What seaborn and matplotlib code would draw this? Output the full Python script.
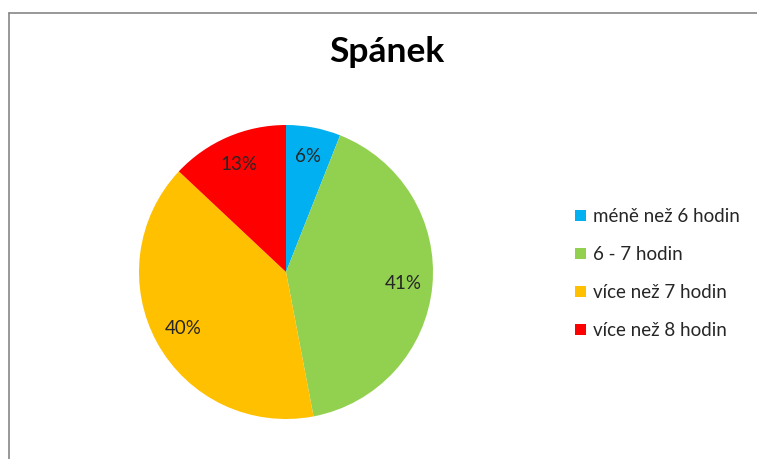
import matplotlib
matplotlib.use("Agg")
import matplotlib.pyplot as plt
from matplotlib.lines import Line2D
import seaborn as sns

# Sleep duration survey
categories = ["méně než 6 hodin", "6 - 7 hodin", "více než 7 hodin", "více než 8 hodin"]
shares = [6, 41, 40, 13]
colors = ["#00B0F0", "#92D050", "#FFC000", "#FF0000"]
title = "Spánek"

sns.set_theme(style="white")
plt.rcParams["font.family"] = ["Lato", "DejaVu Sans"]

W, H = 757, 459
fig = plt.figure(figsize=(W / 100, H / 100), dpi=100)
fig.patch.set_facecolor("white")

cx, cy, r = 286, 272, 147
ax = fig.add_axes([(cx - r) / W, (H - cy - r) / H, 2 * r / W, 2 * r / H])

wedges, texts, autotexts = ax.pie(
    shares,
    colors=colors,
    startangle=90,
    counterclock=False,
    autopct=lambda p: f"{p:.0f}%",
    pctdistance=0.8,
    wedgeprops=dict(linewidth=0),
    textprops=dict(fontsize=13.5, color="#262626"),
)
ax.set_xlim(-1, 1)
ax.set_ylim(-1, 1)
ax.set_aspect("equal")
ax.axis("off")

fig.text(387 / W, 1 - 52 / H, title, ha="center", va="center",
         fontsize=25.5, fontweight="bold", color="#000000")

leg = fig.legend(
    wedges, categories,
    loc="upper left",
    bbox_to_anchor=(566 / W, 1 - 199 / H),
    frameon=False,
    fontsize=13.5,
    handlelength=0.55,
    handleheight=0.55,
    handletextpad=0.4,
    labelspacing=1.12,
    borderpad=0,
)
for t in leg.get_texts():
    t.set_color("#262626")

# chart frame (top and left edges)
fig.add_artist(Line2D([8.5 / W, 1], [1 - 12.5 / H, 1 - 12.5 / H],
                      transform=fig.transFigure, color="#868686", lw=1.2))
fig.add_artist(Line2D([8.5 / W, 8.5 / W], [0, 1 - 12.5 / H],
                      transform=fig.transFigure, color="#868686", lw=1.2))

fig.savefig("out.png", dpi=100, facecolor="white")
